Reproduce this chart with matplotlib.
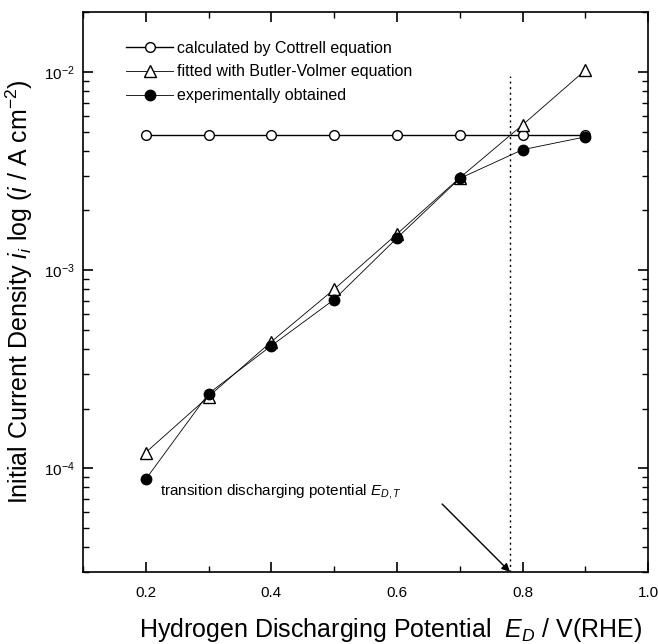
import numpy as np
import matplotlib
matplotlib.use('Agg')
import matplotlib.pyplot as plt
from matplotlib.ticker import MultipleLocator, LogLocator, NullFormatter

plt.rcParams['font.family'] = ['Liberation Sans', 'DejaVu Sans']
plt.rcParams['mathtext.fontset'] = 'custom'
plt.rcParams['mathtext.rm'] = 'Liberation Sans'
plt.rcParams['mathtext.it'] = 'Liberation Sans:italic'

# Data
potential = [0.2, 0.3, 0.4, 0.5, 0.6, 0.7, 0.8, 0.9]
cottrell = [4.8e-3, 4.8e-3, 4.8e-3, 4.8e-3, 4.8e-3, 4.8e-3, 4.8e-3, 4.8e-3]
butler_volmer = [1.2e-4, 2.3e-4, 4.35e-4, 8.0e-4, 1.52e-3, 2.92e-3, 5.4e-3, 1.02e-2]
experimental = [8.8e-5, 2.38e-4, 4.15e-4, 7.1e-4, 1.45e-3, 2.9e-3, 4.05e-3, 4.7e-3]
E_DT = 0.78

fig = plt.figure(figsize=(6.58, 6.44), dpi=100)
ax = fig.add_axes([0.126, 0.112, 0.859, 0.869])

ax.plot(potential, cottrell, color='black', lw=1.0, marker='o', ms=7,
        mfc='white', mec='black', mew=1.0, label='calculated by Cottrell equation')
ax.plot(potential, butler_volmer, color='black', lw=0.6, marker='^', ms=8,
        mfc='white', mec='black', mew=1.0, label='fitted with Butler-Volmer equation')
ax.plot(potential, experimental, color='black', lw=0.6, marker='o', ms=7.5,
        mfc='black', mec='black', label='experimentally obtained')

ax.set_yscale('log')
ax.set_xlim(0.1, 1.0)
ax.set_ylim(3e-5, 2e-2)

ax.vlines(E_DT, 3e-5, 9.5e-3, colors='black', linestyles=(0, (1.5, 2.5)), lw=1.0)

ax.annotate('', xy=(E_DT, 3e-5), xytext=(0.672, 6.6e-5),
            arrowprops=dict(arrowstyle='-|>', color='black', lw=1.0,
                            mutation_scale=12, shrinkA=0, shrinkB=0))
ax.text(0.222, 7.6e-5, 'transition discharging potential $E_{D,T}$',
        fontsize=11, va='center', ha='left')

ax.xaxis.set_major_locator(MultipleLocator(0.2))
ax.xaxis.set_minor_locator(MultipleLocator(0.1))
ax.yaxis.set_major_locator(LogLocator(base=10, numticks=10))
ax.yaxis.set_minor_locator(LogLocator(base=10, subs=np.arange(2, 10), numticks=10))
ax.yaxis.set_minor_formatter(NullFormatter())
ax.tick_params(which='both', direction='in', top=True, right=True, labelsize=11)
ax.tick_params(which='major', length=7, width=1.2)
ax.tick_params(which='minor', length=4, width=1.0)
ax.tick_params(axis='x', which='major', pad=10)
ax.tick_params(axis='y', which='major', pad=6)
for s in ax.spines.values():
    s.set_linewidth(1.2)

ax.set_xlabel('Hydrogen Discharging Potential  $E_D$ / V(RHE)', fontsize=18, labelpad=12)
ax.xaxis.label.set_x(0.545)
ax.set_ylabel('Initial Current Density $i_i$ log ($i$ / A cm$^{-2}$)', fontsize=18, labelpad=6)

ax.legend(loc='upper left', bbox_to_anchor=(0.05, 0.975), frameon=False,
          fontsize=11.5, handlelength=3.0, handletextpad=0.2, labelspacing=0.55)

fig.savefig('out.png', dpi=100)
